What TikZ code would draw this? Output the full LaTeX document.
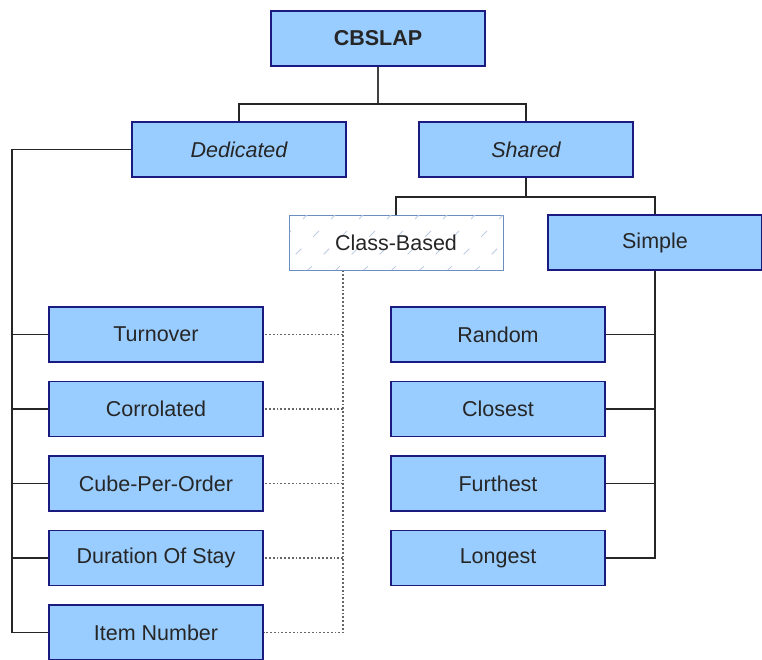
\documentclass[tikz,border=0pt]{standalone}
\usepackage{fontspec}
\setmainfont{Liberation Sans}

\definecolor{boxfill}{HTML}{99CCFF}
\definecolor{boxline}{HTML}{1A1A80}
\definecolor{hatchline}{HTML}{6C8EBF}

\begin{document}
\begin{tikzpicture}[x=1pt, y=-1pt]
  \tikzset{
    box/.style={draw=boxline, fill=boxfill, line width=1.5pt,
      minimum width=214pt, minimum height=55pt, text=black!85,
      font=\fontsize{21.5}{25}\selectfont},
    link/.style={line width=1.6pt, black!85},
    dotlink/.style={line width=1.8pt, dotted, black!60},
  }
  \useasboundingbox (0,0) rectangle (762,659);

  % top levels
  \node[box, font=\fontsize{21.5}{25}\selectfont\bfseries] (root) at (378,38.5) {CBSLAP};
  \node[box, font=\fontsize{21.5}{25}\selectfont\itshape] (ded) at (239,149.5) {Dedicated};
  \node[box, font=\fontsize{21.5}{25}\selectfont\itshape] (shr) at (526,149.5) {Shared};
  \node[box, draw=hatchline, line width=1pt, fill=white] (cls) at (396,242.5) {};
  \begin{scope}
    \clip ([shift={(1,1)}]cls.north west) rectangle ([shift={(-1,-1)}]cls.south east);
    \foreach \x in {250,278,...,530}
      \draw[hatchline!45, line width=0.8pt, dash pattern=on 8pt off 17pt]
        (\x,272) -- ++(58,-58);
  \end{scope}
  \node[box, draw=none, fill=none] at (cls) {Class-Based};
  \node[box] (simp) at (655,242.5) {Simple};

  % leaves
  \foreach \name/\txt [count=\i from 0] in {turn/Turnover, corr/Corrolated,
      cube/Cube-Per-Order, stay/Duration Of Stay, item/Item Number} {
    \node[box] (\name) at (156,334.5+74.5*\i) {\txt};
  }
  \foreach \name/\txt [count=\i from 0] in {rand/Random, clos/Closest,
      furt/Furthest, long/Longest} {
    \node[box] (\name) at (498,334.5+74.5*\i) {\txt};
  }

  \draw[link, line width=2.5pt, black!75] (root.south) -- ++(0,37) coordinate (bar);
  \draw[link] (bar) -| (ded.north);
  \draw[link] (bar) -| (shr.north);
  \draw[link] (shr.south) -- ++(0,19) coordinate (sbar);
  \draw[link] (sbar) -| (cls.north);
  \draw[link] (sbar) -| (simp.north);

  % dedicated side
  \coordinate (dtrunk) at (12,149.5);
  \draw[link] (ded.west) -- (dtrunk) |- (item.west);
  \foreach \name in {turn, corr, cube, stay}
    \draw[link] (dtrunk |- \name.west) -- (\name.west);

  % class-based, dotted
  \coordinate (ctrunk) at ([xshift=-53pt]cls.south);
  \draw[dotlink] (ctrunk) |- (item.east);
  \foreach \name in {turn, corr, cube, stay}
    \draw[dotlink] (ctrunk |- \name.east) -- (\name.east);

  % simple side
  \draw[link] (simp.south) |- (long.east);
  \foreach \name in {rand, clos, furt}
    \draw[link] (simp.south |- \name.east) -- (\name.east);
\end{tikzpicture}
\end{document}
